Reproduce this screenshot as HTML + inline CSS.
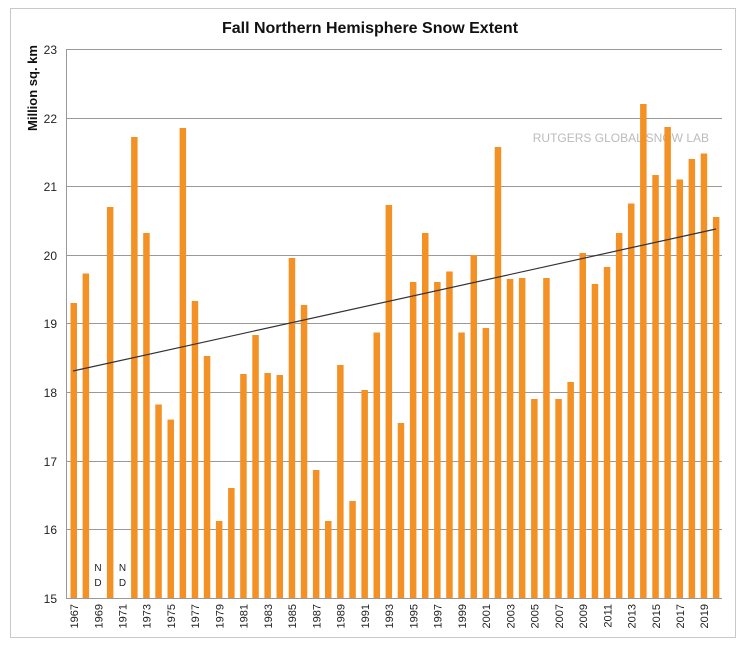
<!DOCTYPE html><html><head><meta charset="utf-8"><style>body{margin:0;background:#fff}svg{display:block;font-family:"Liberation Sans",Arial,sans-serif}</style></head><body>
<svg width="740" height="648" viewBox="0 0 740 648">
<rect x="0" y="0" width="740" height="648" fill="#fff"/>
<rect x="10.5" y="8.5" width="725" height="629" fill="none" stroke="#c8c8c8"/>
<text x="370" y="33" text-anchor="middle" font-size="16" font-weight="bold" fill="#111">Fall Northern Hemisphere Snow Extent</text>
<text transform="translate(37,88) rotate(-90)" text-anchor="middle" font-size="13" font-weight="bold" fill="#111">Million sq. km</text>
<g stroke="#999" stroke-width="1">
<line x1="66" y1="49.5" x2="722" y2="49.5"/><line x1="66" y1="118.5" x2="722" y2="118.5"/><line x1="66" y1="186.5" x2="722" y2="186.5"/><line x1="66" y1="255.5" x2="722" y2="255.5"/><line x1="66" y1="323.5" x2="722" y2="323.5"/><line x1="66" y1="392.5" x2="722" y2="392.5"/><line x1="66" y1="461.5" x2="722" y2="461.5"/><line x1="66" y1="529.5" x2="722" y2="529.5"/><line x1="66" y1="598.5" x2="722" y2="598.5"/><line x1="66.5" y1="49" x2="66.5" y2="598"/>
</g>
<g font-size="12" fill="#222" text-anchor="end">
<text x="57" y="54">23</text><text x="57" y="123">22</text><text x="57" y="191">21</text><text x="57" y="260">20</text><text x="57" y="328">19</text><text x="57" y="397">18</text><text x="57" y="466">17</text><text x="57" y="534">16</text><text x="57" y="603">15</text>
</g>
<text x="709" y="142" text-anchor="end" font-size="12" fill="#bbb">RUTGERS GLOBAL SNOW LAB</text>
<g fill="#f39125">
<rect x="70.5" y="303" width="6.5" height="295"/><rect x="82.6" y="273.5" width="6.5" height="324.5"/><rect x="106.9" y="207" width="6.5" height="391"/><rect x="131.1" y="137" width="6.5" height="461"/><rect x="143.2" y="233" width="6.5" height="365"/><rect x="155.3" y="404.5" width="6.5" height="193.5"/><rect x="167.5" y="419.6" width="6.5" height="178.4"/><rect x="179.6" y="128" width="6.5" height="470"/><rect x="191.7" y="301" width="6.5" height="297"/><rect x="203.8" y="356" width="6.5" height="242"/><rect x="215.9" y="521" width="6.5" height="77"/><rect x="228.1" y="488" width="6.5" height="110"/><rect x="240.2" y="374" width="6.5" height="224"/><rect x="252.3" y="335" width="6.5" height="263"/><rect x="264.4" y="373" width="6.5" height="225"/><rect x="276.5" y="375" width="6.5" height="223"/><rect x="288.7" y="258" width="6.5" height="340"/><rect x="300.8" y="305" width="6.5" height="293"/><rect x="312.9" y="470" width="6.5" height="128"/><rect x="325" y="521" width="6.5" height="77"/><rect x="337.1" y="365" width="6.5" height="233"/><rect x="349.3" y="501" width="6.5" height="97"/><rect x="361.4" y="390" width="6.5" height="208"/><rect x="373.5" y="332.5" width="6.5" height="265.5"/><rect x="385.6" y="205" width="6.5" height="393"/><rect x="397.7" y="423" width="6.5" height="175"/><rect x="409.9" y="282" width="6.5" height="316"/><rect x="422" y="233" width="6.5" height="365"/><rect x="434.1" y="282" width="6.5" height="316"/><rect x="446.2" y="271.5" width="6.5" height="326.5"/><rect x="458.3" y="332.5" width="6.5" height="265.5"/><rect x="470.5" y="255" width="6.5" height="343"/><rect x="482.6" y="328" width="6.5" height="270"/><rect x="494.7" y="147" width="6.5" height="451"/><rect x="506.8" y="279" width="6.5" height="319"/><rect x="518.9" y="278" width="6.5" height="320"/><rect x="531.1" y="399" width="6.5" height="199"/><rect x="543.2" y="278" width="6.5" height="320"/><rect x="555.3" y="399" width="6.5" height="199"/><rect x="567.4" y="382" width="6.5" height="216"/><rect x="579.5" y="253" width="6.5" height="345"/><rect x="591.7" y="284" width="6.5" height="314"/><rect x="603.8" y="267" width="6.5" height="331"/><rect x="615.9" y="233" width="6.5" height="365"/><rect x="628" y="203.5" width="6.5" height="394.5"/><rect x="640.1" y="104" width="6.5" height="494"/><rect x="652.3" y="175" width="6.5" height="423"/><rect x="664.4" y="127" width="6.5" height="471"/><rect x="676.5" y="179.5" width="6.5" height="418.5"/><rect x="688.6" y="159" width="6.5" height="439"/><rect x="700.7" y="153.5" width="6.5" height="444.5"/><rect x="712.9" y="217" width="6.5" height="381"/>
</g>
<line x1="73" y1="371" x2="716" y2="229" stroke="#333" stroke-width="1.2"/>
<g font-size="10" fill="#222" text-anchor="middle">
<text x="98" y="571">N</text><text x="98" y="586">D</text><text x="122.5" y="571">N</text><text x="122.5" y="586">D</text>
</g>
<g font-size="11" fill="#222" text-anchor="end">
<text transform="translate(78,604) rotate(-90)">1967</text>
<text transform="translate(102.3,604) rotate(-90)">1969</text>
<text transform="translate(126.5,604) rotate(-90)">1971</text>
<text transform="translate(150.7,604) rotate(-90)">1973</text>
<text transform="translate(175,604) rotate(-90)">1975</text>
<text transform="translate(199.2,604) rotate(-90)">1977</text>
<text transform="translate(223.4,604) rotate(-90)">1979</text>
<text transform="translate(247.7,604) rotate(-90)">1981</text>
<text transform="translate(271.9,604) rotate(-90)">1983</text>
<text transform="translate(296.2,604) rotate(-90)">1985</text>
<text transform="translate(320.4,604) rotate(-90)">1987</text>
<text transform="translate(344.6,604) rotate(-90)">1989</text>
<text transform="translate(368.9,604) rotate(-90)">1991</text>
<text transform="translate(393.1,604) rotate(-90)">1993</text>
<text transform="translate(417.4,604) rotate(-90)">1995</text>
<text transform="translate(441.6,604) rotate(-90)">1997</text>
<text transform="translate(465.8,604) rotate(-90)">1999</text>
<text transform="translate(490.1,604) rotate(-90)">2001</text>
<text transform="translate(514.3,604) rotate(-90)">2003</text>
<text transform="translate(538.6,604) rotate(-90)">2005</text>
<text transform="translate(562.8,604) rotate(-90)">2007</text>
<text transform="translate(587,604) rotate(-90)">2009</text>
<text transform="translate(611.3,604) rotate(-90)">2011</text>
<text transform="translate(635.5,604) rotate(-90)">2013</text>
<text transform="translate(659.8,604) rotate(-90)">2015</text>
<text transform="translate(684,604) rotate(-90)">2017</text>
<text transform="translate(708.2,604) rotate(-90)">2019</text>
</g>
</svg>
</body></html>
